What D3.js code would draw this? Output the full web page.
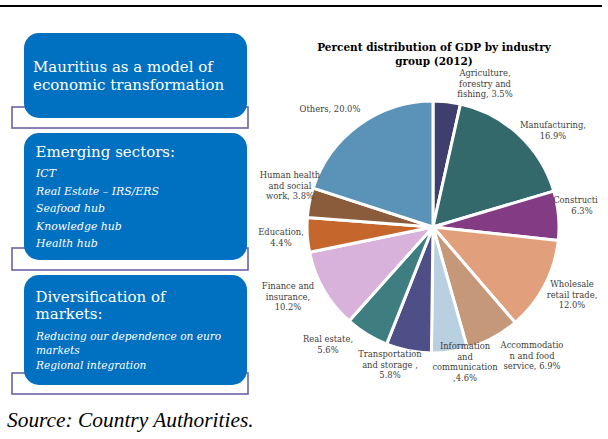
<!DOCTYPE html>
<html>
<head>
<meta charset="utf-8">
<script src="https://cdn.jsdelivr.net/npm/d3@7"></script>
<style>
  html, body { margin: 0; padding: 0; background: #fff; }
  svg { display: block; }
</style>
</head>
<body>
<svg id="fig" width="608" height="439"></svg>
<script>
// GDP shares by industry group, 2012 (percent), clockwise from 12 o'clock
const sectors = [
  "Agriculture, forestry and fishing", "Manufacturing", "Construction",
  "Wholesale and retail trade", "Accommodation and food service",
  "Information and communication", "Transportation and storage",
  "Real estate", "Finance and insurance", "Education",
  "Human health and social work", "Others"
];
const shares = [3.5, 16.9, 6.3, 12.0, 6.9, 4.6, 5.8, 5.6, 10.2, 4.4, 3.8, 20.0];
const sliceColors = [
  "#3e3f6c", "#33696b", "#833c84", "#e1a07b", "#c6987a", "#b8d0df",
  "#4f4f88", "#3e7e80", "#d9b2dc", "#c5672c", "#8b5c3b", "#5b92b7"
];
// Wrapped label text for each slice (value appended on the last line)
const labelLines = [
  ["Agriculture,", "forestry and", "fishing, {v}"],
  ["Manufacturing,", "{v}"],
  ["Construction,", "{v}"],
  ["Wholesale", "retail trade,", "{v}"],
  ["Accommodatio", "n and food", "service, {v}"],
  ["Information", "and", "communication", ",{v}"],
  ["Transportation", "and storage ,", "{v}"],
  ["Real estate,", "{v}"],
  ["Finance and", "insurance,", "{v}"],
  ["Education,", "{v}"],
  ["Human health", "and social", "work, {v}"],
  ["Others, {v}"]
];
// Label anchor offsets from the pie centre (centre of first line's baseline)
const labelOffsets = [
  [52, -151], [120, -99], [149, -24], [139, 60], [99, 121], [32, 122],
  [-43, 130], [-105, 115], [-145, 62], [-152, 8], [-143, -49], [-103, -115]
];

// Text panels on the left
const panelTitles = [
  ["Mauritius as a model of", "economic transformation"],
  ["Emerging sectors:"],
  ["Diversification of", "markets:"]
];
const panelItems = [
  [],
  ["ICT", "Real Estate \u2013 IRS/ERS", "Seafood hub", "Knowledge hub", "Health hub"],
  ["Reducing our dependence on euro", "markets", "Regional integration"]
];
const chartTitle = ["Percent distribution of GDP by industry", "group (2012)"];
const sourceNote = "Source: Country Authorities.";

const svg = d3.select("#fig");

// Rule across the top of the page
svg.append("line")
  .attr("x1", 0).attr("x2", 602).attr("y1", 6).attr("y2", 6)
  .attr("stroke", "#000").attr("stroke-width", 2);

// ----- left-hand panels -----
const panelGeom = [
  { y: 33, h: 85, bracketY: 107, bracketH: 21, titleY: 72, titleGap: 18, itemY: 0, itemGap: 0 },
  { y: 133, h: 127, bracketY: 248, bracketH: 22, titleY: 157, titleGap: 17, itemY: 177, itemGap: 17.6 },
  { y: 275, h: 110, bracketY: 373, bracketH: 21, titleY: 302, titleGap: 17, itemY: 340, itemGap: [0, 13.5, 29] }
];
const panels = svg.append("g");
panelGeom.forEach((g, i) => {
  panels.append("rect")
    .attr("x", 12).attr("y", g.bracketY).attr("width", 236).attr("height", g.bracketH)
    .attr("fill", "none").attr("stroke", "#6b63a6").attr("stroke-width", 1.6);
  panels.append("rect")
    .attr("x", 24).attr("y", g.y).attr("width", 223).attr("height", g.h)
    .attr("rx", 15).attr("ry", 15).attr("fill", "#0070c0");
  panels.append("g").selectAll("text").data(panelTitles[i]).join("text")
    .attr("x", i === 0 ? 33 : 35.5)
    .attr("y", (d, k) => g.titleY + k * g.titleGap)
    .attr("fill", "#fff")
    .style("font-family", "'DejaVu Serif', serif")
    .style("font-size", "15px")
    .text(d => d);
  panels.append("g").selectAll("text").data(panelItems[i]).join("text")
    .attr("x", 36)
    .attr("y", (d, k) => g.itemY + (Array.isArray(g.itemGap) ? g.itemGap[k] : k * g.itemGap))
    .attr("fill", "#fff")
    .style("font-family", "'DejaVu Serif', serif")
    .style("font-style", "italic")
    .style("font-size", i === 2 ? "10.6px" : "10.9px")
    .text(d => d);
});

svg.append("text")
  .attr("x", 7).attr("y", 427)
  .style("font-family", "'Liberation Serif', 'Times New Roman', serif")
  .style("font-style", "italic")
  .style("font-size", "21.4px")
  .attr("fill", "#000")
  .text(sourceNote);

// ----- pie chart -----
const cx = 433, cy = 227, radius = 126;

svg.append("g").selectAll("text").data(chartTitle).join("text")
  .attr("x", 434)
  .attr("y", (d, i) => 51 + i * 14)
  .attr("text-anchor", "middle")
  .style("font-family", "'DejaVu Serif', serif")
  .style("font-weight", "bold")
  .style("font-size", "10.5px")
  .attr("fill", "#000")
  .text(d => d);

const pie = d3.pie().sort(null).value(d => d);
const arc = d3.arc().innerRadius(0).outerRadius(radius);
const arcs = pie(shares);

const pieG = svg.append("g").attr("transform", `translate(${cx},${cy})`);
pieG.selectAll("path").data(arcs).join("path")
  .attr("d", arc)
  .attr("fill", (d, i) => sliceColors[i])
  .attr("stroke", "#fff")
  .attr("stroke-width", 3)
  .attr("stroke-linejoin", "round");

// Data labels, clipped at the chart frame on the right
svg.append("clipPath").attr("id", "plotClip")
  .append("rect").attr("x", 0).attr("y", 0).attr("width", 598).attr("height", 439);

const fmt = d3.format(".1f");
const labels = svg.append("g").attr("clip-path", "url(#plotClip)")
  .selectAll("text").data(arcs).join("text")
  .attr("text-anchor", "middle")
  .attr("fill", "#404040")
  .style("font-family", "'DejaVu Serif', serif")
  .style("font-size", "8.4px")
  .attr("transform", (d, i) => `translate(${cx + labelOffsets[i][0]},${cy + labelOffsets[i][1]})`);

labels.selectAll("tspan")
  .data(d => labelLines[d.index].map(s => s.replace("{v}", fmt(d.data) + "%")))
  .join("tspan")
  .attr("x", 0)
  .attr("y", (d, k) => k * 10.6)
  .text(d => d);
</script>
</body>
</html>
